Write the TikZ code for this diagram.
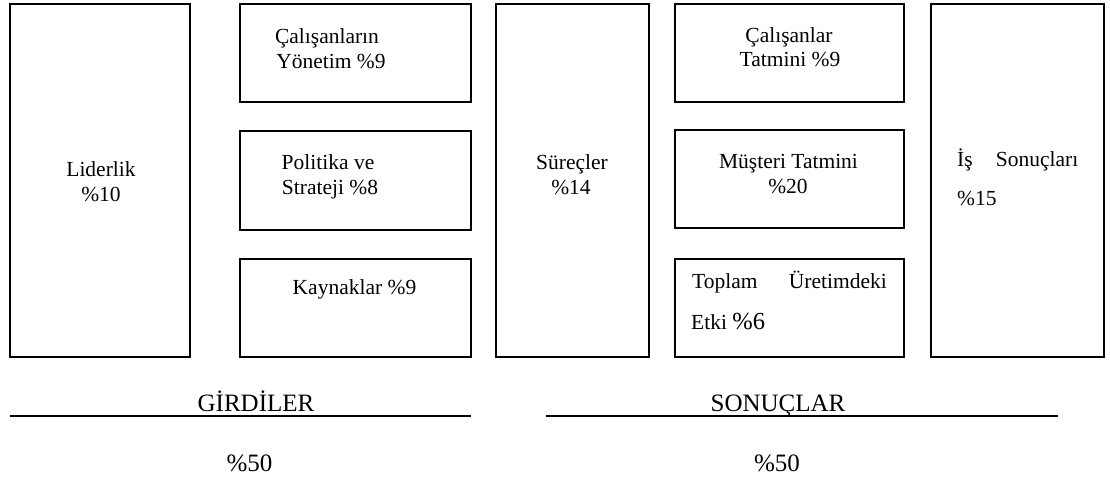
\documentclass[tikz,border=0pt]{standalone}
\usepackage{fontspec}
\setmainfont{Liberation Serif}
\begin{document}
\begin{tikzpicture}[x=1pt,y=-1pt,
  box/.style={draw, line width=1.5pt, inner sep=0pt, outer sep=0pt, anchor=north west},
  lbl/.style={inner sep=0pt, anchor=base, font=\fontsize{21.5}{25}\selectfont},
  big/.style={inner sep=0pt, anchor=base, font=\fontsize{25}{30}\selectfont},
  rule/.style={line width=1.5pt}]
  % canvas
  \fill[white] (0,0) rectangle (1110,478);
  \useasboundingbox (0,0) rectangle (1110,478);

  % --- inputs (GIRDILER) ---
  \node[box, minimum width=180pt, minimum height=353pt] (lid) at (10,4) {};
  \node[box, minimum width=231pt, minimum height=98pt] (cal) at (240,4) {};
  \node[box, minimum width=231pt, minimum height=99pt] (pol) at (240,131) {};
  \node[box, minimum width=231pt, minimum height=98pt] (kay) at (240,259) {};

  \node[lbl] (lidA) at (101,177) {Liderlik};
  \node[lbl] (lidB) at (101,202) {\%10};
  \node[lbl] (calA) at (327,44) {Çalışanların};
  \node[lbl] (calB) at (331,69) {Yönetim \%9};
  \node[lbl] (polA) at (328,170) {Politika ve};
  \node[lbl] (polB) at (330,195) {Strateji \%8};
  \node[lbl] (kayA) at (354.5,294) {Kaynaklar \%9};

  % --- results (SONUCLAR) ---
  \node[box, minimum width=153pt, minimum height=353pt] (sur) at (496,4) {};
  \node[box, minimum width=229pt, minimum height=98pt] (cta) at (675,4) {};
  \node[box, minimum width=229pt, minimum height=98pt] (mus) at (675,130) {};
  \node[box, minimum width=229pt, minimum height=98pt] (top) at (675,259) {};
  \node[box, minimum width=173pt, minimum height=353pt] (isr) at (931,4) {};

  \node[lbl] (surA) at (572,170) {Süreçler};
  \node[lbl] (surB) at (571,195) {\%14};
  \node[lbl] (ctaA) at (789,43) {Çalışanlar};
  \node[lbl] (ctaB) at (790,67) {Tatmini \%9};
  \node[lbl] (musA) at (788.5,169) {Müşteri Tatmini};
  \node[lbl] (musB) at (788,194) {\%20};
  \node[lbl, anchor=base west] (topA) at (692,288) {Toplam};
  \node[lbl, anchor=base east] (topB) at (887,288) {Üretimdeki};
  \node[lbl, anchor=base west] (topC) at (691,329) {Etki {\fontsize{24.5}{25}\selectfont\%6}};
  \node[lbl, anchor=base west] (isrA) at (957,167) {İş};
  \node[lbl, anchor=base east] (isrB) at (1078.5,167) {Sonuçları};
  \node[lbl, anchor=base west] (isrC) at (957,205.5) {\%15};

  % --- totals ---
  \node[big] (gir) at (256,411.5) {GİRDİLER};
  \node[big] (son) at (778,411.5) {SONUÇLAR};
  \coordinate (girL) at (10,416);
  \coordinate (girR) at (471,416);
  \coordinate (sonL) at (546,416);
  \coordinate (sonR) at (1058,416);
  \draw[rule] (girL) -- (girR);
  \draw[rule] (sonL) -- (sonR);
  \node[big] (girP) at (249.5,471) {\%50};
  \node[big] (sonP) at (777,471) {\%50};
\end{tikzpicture}
\end{document}
